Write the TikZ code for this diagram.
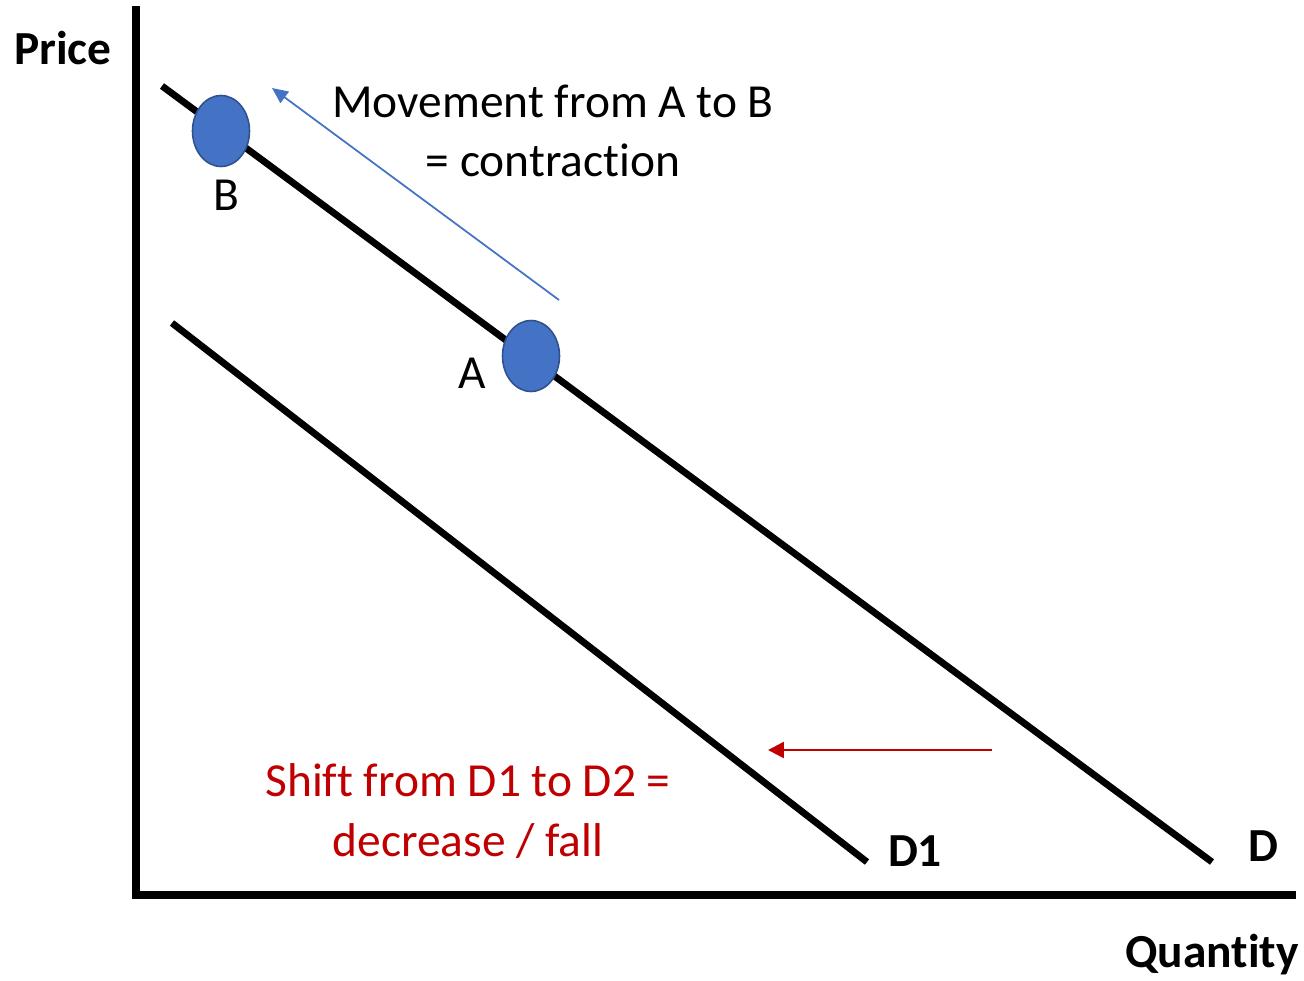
\documentclass[tikz,border=0pt]{standalone}
\usepackage{fontspec}
\setmainfont[Ligatures=NoCommon]{Carlito}
\usetikzlibrary{arrows.meta,shapes.geometric}
\definecolor{curve}{RGB}{0,0,0}
\definecolor{dotblue}{RGB}{68,114,196}
\definecolor{dotrim}{RGB}{47,82,143}
\definecolor{shiftred}{RGB}{192,0,0}
\tikzset{
  daxis/.style={curve,line width=4pt},
  dcurve/.style={curve,line width=3.9pt},
  ddot/.style={ellipse,fill=dotblue,draw=dotrim,line width=0.9pt,minimum width=1.14cm,minimum height=1.42cm,inner sep=0pt},
  dlab/.style={font=\fontsize{27}{31}\selectfont,inner sep=0pt},
  dbold/.style={dlab,font=\fontsize{27}{31}\selectfont\bfseries},
}
\begin{document}
\begin{tikzpicture}[x=0.02cm,y=-0.02cm]
  \useasboundingbox (0,0) rectangle (1304,980);
  % axes
  \coordinate (top) at (136,10); \coordinate (org) at (136,895);
  \coordinate (right) at (1292,895);
  \draw[daxis,line cap=rect] (top) -- (org) -- (right);
  \node[dbold] (price) at (63,48) {Price};
  \node[dbold] (qty) at (1212,955) {Quantity};
  % demand curves
  \coordinate (d0) at (162,86); \coordinate (d1) at (1212,862);
  \coordinate (e0) at (172,323); \coordinate (e1) at (867,862);
  \draw[dcurve] (d0) -- (d1);
  \draw[dcurve] (e0) -- (e1);
  \node[dbold] (labD) at (1263,846) {D};
  \node[dbold] (labD1) at (915,851) {D1};
  % points on D
  \node[ddot] (ptB) at (221,131) {};
  \node[ddot] (ptA) at (531,356) {};
  \node[dlab] (labB) at (226,195) {B};
  \node[dlab] (labA) at (472,373) {A};
  % movement along D
  \coordinate (mv0) at (559,300); \coordinate (mv1) at (272,88);
  \draw[dotblue,line width=1pt,-{Triangle[length=9pt,width=8pt]}] (mv0) -- (mv1);
  \node[dlab,align=center] (mvtxt) at (553,131) {Movement from A to B\\[3pt]= contraction};
  % shift of curve
  \coordinate (sh0) at (992,750); \coordinate (sh1) at (768,750);
  \draw[shiftred,line width=1.5pt,-{Triangle[length=9pt,width=9pt]}] (sh0) -- (sh1);
  \node[dlab,align=center,text=shiftred] (shtxt) at (468,811) {Shift from D1 to D2 =\\[3pt]decrease / fall};
\end{tikzpicture}
\end{document}
